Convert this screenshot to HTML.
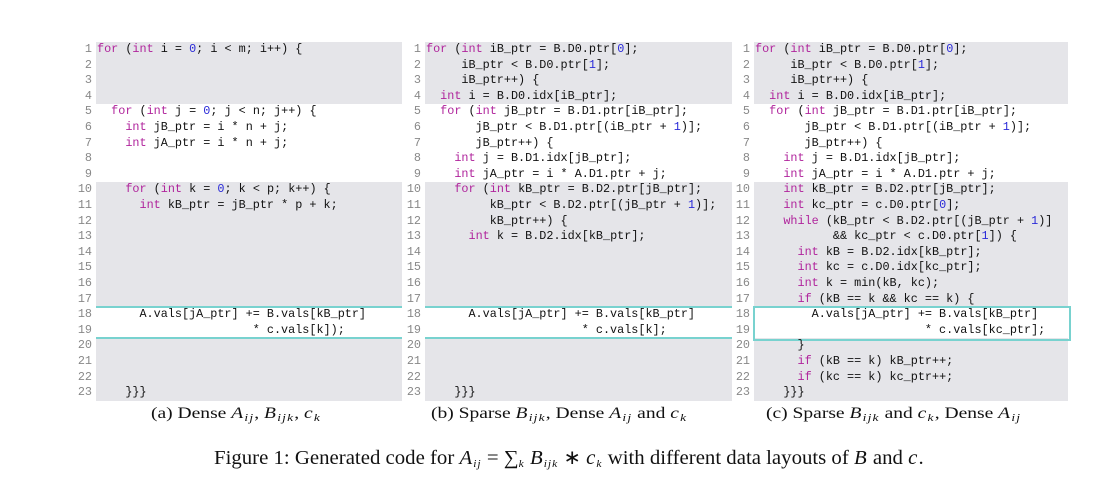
<!DOCTYPE html>
<html><head><meta charset="utf-8"><style>
body{margin:0;width:1104px;height:482px;background:#fff;position:relative;overflow:hidden;font-family:"Liberation Mono",monospace}
.bg{position:absolute;background:#e5e5e9}
.ln{position:absolute;font-size:11.8px;color:#888;text-align:right;width:24px;line-height:15.6px}
.code{position:absolute;font-size:11.8px;color:#111;white-space:pre;line-height:15.6px}
.kw{color:#b0249c}.num{color:#2a2ad8}
.teal{position:absolute;background:#78d2cf}
.cap{position:absolute;font-family:"Liberation Serif",serif;font-size:16px;white-space:nowrap;color:#111;transform-origin:0 0}
.cap i{font-style:italic;padding-right:1px}
sub{font-size:11px;vertical-align:-3px;font-style:italic;letter-spacing:1px}
</style></head><body>
<div id="fig"></div>
<div class="cap" style="left:151px;top:405px;transform:scaleX(1.22)">(a) Dense <i>A</i><sub>ij</sub>, <i>B</i><sub>ijk</sub>, <i>c</i><sub>k</sub></div>
<div class="cap" style="left:431px;top:405px;transform:scaleX(1.22)">(b) Sparse <i>B</i><sub>ijk</sub>, Dense <i>A</i><sub>ij</sub> and <i>c</i><sub>k</sub></div>
<div class="cap" style="left:766px;top:405px;transform:scaleX(1.22)">(c) Sparse <i>B</i><sub>ijk</sub> and <i>c</i><sub>k</sub>, Dense <i>A</i><sub>ij</sub></div>
<div class="cap" style="left:214px;top:445px;font-size:20px;transform:scaleX(1.04)">Figure 1: Generated code for <i>A</i><sub>ij</sub> = ∑<sub>k</sub> <i>B</i><sub>ijk</sub> ∗ <i>c</i><sub>k</sub> with different data layouts of <i>B</i> and <i>c</i>.</div>
<script>
const codeA = ["for (int i = 0; i < m; i++) {","","","","  for (int j = 0; j < n; j++) {","    int jB_ptr = i * n + j;","    int jA_ptr = i * n + j;","","","    for (int k = 0; k < p; k++) {","      int kB_ptr = jB_ptr * p + k;","","","","","","","      A.vals[jA_ptr] += B.vals[kB_ptr]","                      * c.vals[k]);","","","","    }}}"];
const codeB = ["for (int iB_ptr = B.D0.ptr[0];","     iB_ptr < B.D0.ptr[1];","     iB_ptr++) {","  int i = B.D0.idx[iB_ptr];","  for (int jB_ptr = B.D1.ptr[iB_ptr];","       jB_ptr < B.D1.ptr[(iB_ptr + 1)];","       jB_ptr++) {","    int j = B.D1.idx[jB_ptr];","    int jA_ptr = i * A.D1.ptr + j;","    for (int kB_ptr = B.D2.ptr[jB_ptr];","         kB_ptr < B.D2.ptr[(jB_ptr + 1)];","         kB_ptr++) {","      int k = B.D2.idx[kB_ptr];","","","","","      A.vals[jA_ptr] += B.vals[kB_ptr]","                      * c.vals[k];","","","","    }}}"];
const codeC = ["for (int iB_ptr = B.D0.ptr[0];","     iB_ptr < B.D0.ptr[1];","     iB_ptr++) {","  int i = B.D0.idx[iB_ptr];","  for (int jB_ptr = B.D1.ptr[iB_ptr];","       jB_ptr < B.D1.ptr[(iB_ptr + 1)];","       jB_ptr++) {","    int j = B.D1.idx[jB_ptr];","    int jA_ptr = i * A.D1.ptr + j;","    int kB_ptr = B.D2.ptr[jB_ptr];","    int kc_ptr = c.D0.ptr[0];","    while (kB_ptr < B.D2.ptr[(jB_ptr + 1)]","           && kc_ptr < c.D0.ptr[1]) {","      int kB = B.D2.idx[kB_ptr];","      int kc = c.D0.idx[kc_ptr];","      int k = min(kB, kc);","      if (kB == k && kc == k) {","        A.vals[jA_ptr] += B.vals[kB_ptr]","                        * c.vals[kc_ptr];","      }","      if (kB == k) kB_ptr++;","      if (kc == k) kc_ptr++;","    }}}"];
const grayRanges = [[1,4],[10,17],[20,23]];
const TOP=42, LH=15.6;
const fig=document.getElementById('fig');
function esc(s){return s.replace(/&/g,'&amp;').replace(/</g,'&lt;').replace(/>/g,'&gt;');}
function hl(s){
  return esc(s).replace(/\b(for|int|while|if)\b|(?<![\w.])(\d+)/g,(m,k,n)=>k?'<span class="kw">'+k+'</span>':'<span class="num">'+n+'</span>');
}
function panel(code,x0,x1,name,box){
  for(const [a,b] of grayRanges){
    const d=document.createElement('div');d.className='bg';
    
    
    d.style.cssText=`left:${x0}px;width:${x1-x0}px;top:${TOP+(a-1)*LH}px;height:${(b-a+1)*LH}px`;
    fig.appendChild(d);
  }
  const y1=TOP+17*LH, y2=TOP+19*LH;
  if(box){
    const t=document.createElement('div');
    
    
    t.style.cssText=`position:absolute;left:${x0-1}px;width:${x1-x0}px;top:${y1-1}px;height:${y2-y1}px;border:2px solid #78d2cf`;
    fig.appendChild(t);
  } else {
    for(const y of [y1,y2]){
      const t=document.createElement('div');t.className='teal';
      
      
      t.style.cssText=`left:${x0}px;width:${x1-x0}px;top:${y-1}px;height:2px`;
      fig.appendChild(t);
    }
  }
  code.forEach((c,i)=>{
    const l=document.createElement('div');l.className='ln';
    
    
    l.style.left=(x0-28)+'px';l.style.top=(TOP+i*LH)+'px';l.textContent=i+1;
    fig.appendChild(l);
    const d=document.createElement('div');d.className='code';
    
    
    d.style.left=(x0+1)+'px';d.style.top=(TOP+i*LH)+'px';d.innerHTML=hl(c);
    fig.appendChild(d);
  });
}
panel(codeA,96,402,'panel-a',false);
panel(codeB,425,732,'panel-b',false);
panel(codeC,754,1068,'panel-c',true);
</script>
</body></html>
